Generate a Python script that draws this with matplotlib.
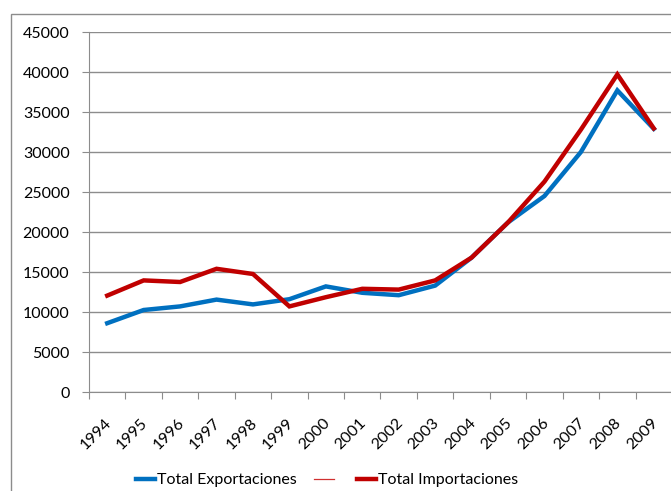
import matplotlib
matplotlib.use("Agg")
import matplotlib.pyplot as plt
import matplotlib.transforms as mtransforms
from matplotlib.lines import Line2D
from matplotlib.patches import Rectangle

years = ["1994", "1995", "1996", "1997", "1998", "1999", "2000", "2001",
         "2002", "2003", "2004", "2005", "2006", "2007", "2008", "2009"]
exportaciones = [8600, 10250, 10700, 11550, 10950, 11600, 13200, 12400,
                 12100, 13300, 16800, 21200, 24500, 30000, 37700, 32900]
importaciones = [12050, 13950, 13750, 15400, 14750, 10700, 11850, 12900,
                 12800, 13950, 16800, 21200, 26300, 32800, 39700, 32950]
yticks = list(range(0, 45001, 5000))

plt.rcParams['font.family'] = ['Lato', 'DejaVu Sans']
W, H = 671, 491
FS = 11.5
fig = plt.figure(figsize=(W / 100, H / 100), dpi=100)

# chart border
fig.patches.append(Rectangle((11 / W, -0.1), 1.2, 1 - 14 / H + 0.1,
                             transform=fig.transFigure, fill=False,
                             edgecolor='#8c8c8c', lw=1.0))

ax = fig.add_axes([89 / W, (H - 392) / H, (672 - 89) / W, 360 / H])
x = list(range(len(years)))
ax.plot(x, exportaciones, color='#0070C0', lw=3.2, solid_joinstyle='miter')
ax.plot(x, importaciones, color='#C00000', lw=3.2, solid_joinstyle='miter')

ax.set_xlim(-0.5, len(years) - 0.5)
ax.set_ylim(0, 45000)
ax.set_yticks(yticks)
ax.set_yticklabels([str(v) for v in yticks], fontsize=FS)
ax.yaxis.grid(True, color='#8c8c8c', lw=1.0)
ax.set_axisbelow(True)

ax.set_xticks([i - 0.5 for i in range(len(years) + 1)])
ax.set_xticklabels([])
ax.set_xticks(x, minor=True)
ax.set_xticklabels(years, minor=True, rotation=45, ha='right',
                   rotation_mode='anchor', fontsize=FS)
ax.tick_params(axis='x', which='minor', length=0, pad=17)
ax.tick_params(axis='x', which='major', length=5, color='#8c8c8c')
ax.tick_params(axis='y', length=5, color='#8c8c8c', pad=9)

offset = mtransforms.ScaledTranslation(-3 / 100, 0, fig.dpi_scale_trans)
for lbl in ax.get_xticklabels(minor=True):
    lbl.set_transform(lbl.get_transform() + offset)

for s in ['top', 'right']:
    ax.spines[s].set_visible(False)
for s in ['left', 'bottom']:
    ax.spines[s].set_color('#8c8c8c')

handles = [Line2D([], [], color='#0070C0', lw=3.2),
           Line2D([], [], color='#d03030', lw=0.9),
           Line2D([], [], color='#C00000', lw=3.2)]
labels = ['Total Exportaciones', ' ', 'Total Importaciones']
fig.legend(handles, labels, loc='center', bbox_to_anchor=(327 / W, 1 - 480 / H),
           ncol=3, frameon=False, fontsize=FS, handlelength=1.2,
           handletextpad=0.1, columnspacing=1.1, borderaxespad=0)

fig.savefig('out.png', dpi=100)
